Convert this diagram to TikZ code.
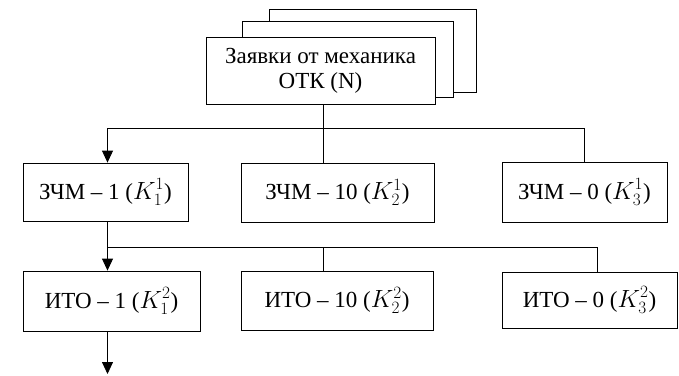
\documentclass[tikz,border=0pt]{standalone}
\usepackage{fontspec}
\setmainfont{Liberation Serif}
\usetikzlibrary{arrows.meta}
\tikzset{
  box/.style={draw, fill=white, line width=0.8pt, inner sep=0pt, align=center,
    font=\fontsize{23}{25}\selectfont},
  sheet/.style={draw, fill=white, line width=0.8pt, inner sep=0pt},
  conn/.style={line width=0.8pt},
  arr/.style={line width=0.8pt, -{Triangle[width=11pt,length=12pt]}}
}
\begin{document}
\begin{tikzpicture}[x=1pt,y=-1pt]
\useasboundingbox (0,0) rectangle (679,375);
% stacked sheets
\node[sheet, minimum width=207pt, minimum height=83pt] (sheet3) at (372.5,50.5) {};
\node[sheet, minimum width=211pt, minimum height=76pt] (sheet2) at (347.5,59) {};
\node[box, minimum width=229pt, minimum height=67pt] (req) at (320.5,70.5) {Заявки от механика\\ОТК (N)};
% level 1
\node[box, minimum width=165pt, minimum height=58pt] (z1) at (105.5,192) {ЗЧМ – 1 ($K_1^1$)};
\node[box, minimum width=193pt, minimum height=59pt] (z2) at (337.5,192.5) {ЗЧМ – 10 ($K_2^1$)};
\node[box, minimum width=165pt, minimum height=60pt] (z3) at (584.5,192) {ЗЧМ – 0 ($K_3^1$)};
% level 2
\node[box, minimum width=177pt, minimum height=60pt] (i1) at (111.5,301) {ИТО – 1 ($K_1^2$)};
\node[box, minimum width=192pt, minimum height=59pt] (i2) at (337,300.5) {ИТО – 10 ($K_2^2$)};
\node[box, minimum width=175pt, minimum height=56pt] (i3) at (589.5,300) {ИТО – 0 ($K_3^2$)};
% junctions
\coordinate (j1) at (323,128);
\coordinate (c1) at (107.5,247);
\coordinate (j2) at (323,247);
\coordinate (c3) at (597,247);
\coordinate (out) at (107.5,374);
% connectors level 1
\draw[conn] (req.south -| j1) -- (j1);
\draw[arr] (j1) -| (z1.north -| c1);
\draw[conn] (j1) -| (z3.north);
\draw[conn] (j1) -- (j1 |- z2.north);
% connectors level 2
\draw[arr] (z1.south -| c1) -- (i1.north -| c1);
\draw[conn] (c1) -- (c3) -- (c3 |- i3.north);
\draw[conn] (j2) -- (j2 |- i2.north);
\draw[arr] (i1.south -| c1) -- (out);
\end{tikzpicture}
\end{document}
